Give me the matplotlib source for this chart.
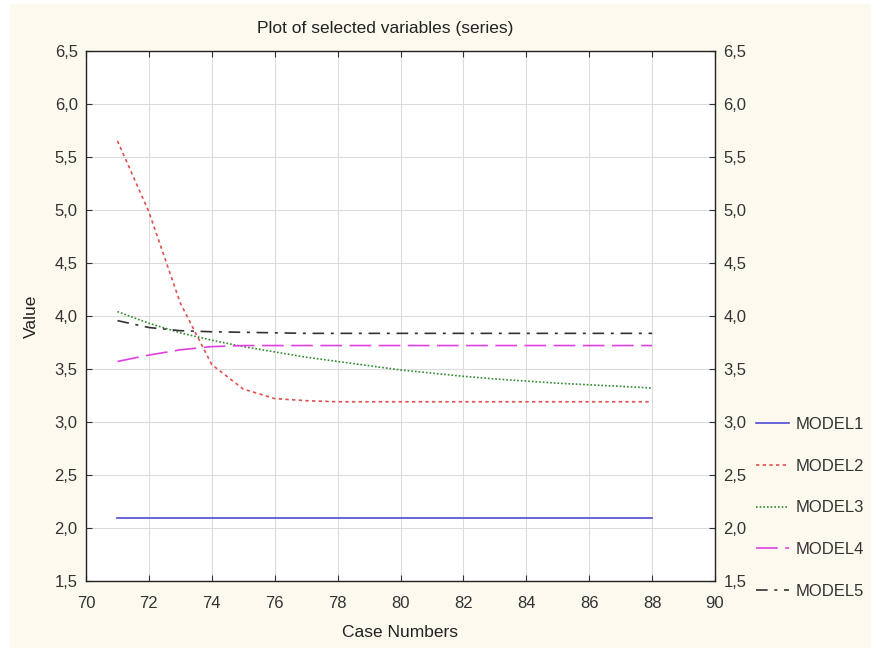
import matplotlib
matplotlib.use("Agg")
import matplotlib.pyplot as plt
from matplotlib.ticker import FuncFormatter, MultipleLocator
from matplotlib.patches import Rectangle

plt.rcParams['font.family'] = ['Liberation Sans', 'DejaVu Sans']

cases = [71, 72, 73, 74, 75, 76, 77, 78, 79, 80, 81, 82, 83, 84, 85, 86, 87, 88]
model1 = [2.09] * 18
model2 = [5.65, 4.98, 4.12, 3.54, 3.31, 3.22, 3.20, 3.19, 3.19, 3.19, 3.19, 3.19,
          3.19, 3.19, 3.19, 3.19, 3.19, 3.19]
model3 = [4.04, 3.93, 3.84, 3.77, 3.71, 3.66, 3.61, 3.57, 3.53, 3.49, 3.46, 3.43,
          3.405, 3.385, 3.365, 3.35, 3.335, 3.32]
model4 = [3.57, 3.63, 3.68, 3.71, 3.72, 3.72, 3.72, 3.72, 3.72, 3.72, 3.72, 3.72,
          3.72, 3.72, 3.72, 3.72, 3.72, 3.72]
model5 = [3.955, 3.89, 3.86, 3.85, 3.845, 3.84, 3.835, 3.835, 3.835, 3.835, 3.835,
          3.835, 3.835, 3.835, 3.835, 3.835, 3.835, 3.835]
labels = ["MODEL1", "MODEL2", "MODEL3", "MODEL4", "MODEL5"]

W, H = 871, 648
fig = plt.figure(figsize=(W / 100, H / 100), dpi=100, facecolor='white')
fig.patches.append(Rectangle((10 / W, 0), 1, 1 - 4 / H, transform=fig.transFigure,
                             facecolor='#FDF9EE', edgecolor='none', zorder=-10))

ax = fig.add_axes([86 / W, 1 - 581 / H, (715 - 86) / W, (581 - 50.7) / H])
ax.set_facecolor('white')

lw = 1.2
ax.plot(cases, model1, color='#4B4BD6', lw=lw, label=labels[0])
ax.plot(cases, model2, color='#E05050', lw=lw, dashes=(2, 2), label=labels[1])
ax.plot(cases, model3, color='#2E8B2E', lw=lw, dashes=(1, 1.2), label=labels[2])
ax.plot(cases, model4, color='#E040E0', lw=lw, dashes=(13, 4.5), label=labels[3])
ax.plot(cases, model5, color='#333333', lw=lw, dashes=(7, 4, 1.8, 4), label=labels[4])

ax.set_xlim(70, 90)
ax.set_ylim(1.5, 6.5)
ax.xaxis.set_major_locator(MultipleLocator(2))
ax.yaxis.set_major_locator(MultipleLocator(0.5))
ax.yaxis.set_major_formatter(FuncFormatter(lambda v, p: f"{v:.1f}".replace('.', ',')))
ax.grid(True, color='#DCDCDC', lw=0.8)
ax.set_axisbelow(True)
ax.tick_params(direction='in', length=4, top=True, right=True, labelright=True,
               labelsize=12, colors='#333333', labelcolor='#333333')
ax.tick_params(axis='x', pad=11)
ax.tick_params(axis='y', pad=6)
for s in ax.spines.values():
    s.set_color('#222222')
    s.set_linewidth(1.0)

fig.text(385 / W, 1 - 28 / H, "Plot of selected variables (series)", ha='center',
         va='center', fontsize=12.5, color='#222222')
ax.set_xlabel("Case Numbers", fontsize=12.5, color='#222222', labelpad=10)
ax.set_ylabel("Value", fontsize=12.5, color='#222222', labelpad=11)

leg = fig.legend(loc='center left', bbox_to_anchor=(756 / W, 1 - 508 / H),
                 frameon=False, fontsize=12, labelspacing=1.6, handlelength=2.0,
                 handletextpad=0.35, borderpad=0, borderaxespad=0)
for t in leg.get_texts():
    t.set_color('#333333')

fig.savefig("out.png", dpi=100, facecolor=fig.get_facecolor())
